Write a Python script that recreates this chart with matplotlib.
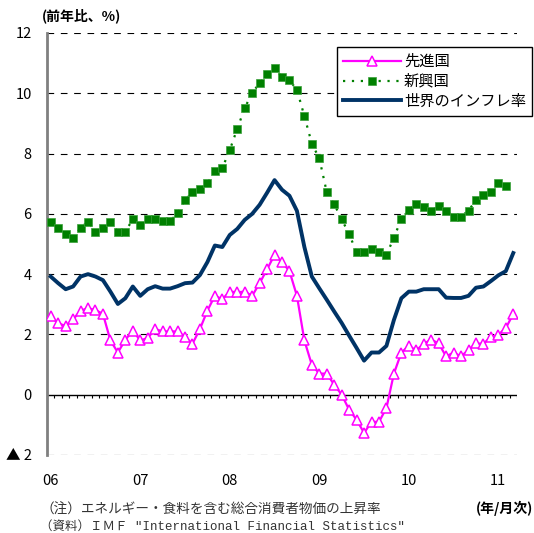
import matplotlib
matplotlib.use("Agg")
import matplotlib.pyplot as plt
import numpy as np

plt.rcParams['font.family'] = ['Noto Sans CJK JP', 'DejaVu Sans']

# monthly data, Jan 2006 - Mar 2011 (%, yoy)
advanced = [2.60, 2.37, 2.28, 2.50, 2.79, 2.87, 2.81, 2.68, 1.80, 1.40, 1.82, 2.13,
            1.80, 1.88, 2.18, 2.10, 2.10, 2.10, 1.91, 1.69, 2.18, 2.79, 3.28, 3.17,
            3.42, 3.40, 3.42, 3.28, 3.70, 4.16, 4.64, 4.40, 4.10, 3.28, 1.80, 0.99,
            0.70, 0.70, 0.33, 0.00, -0.50, -0.83, -1.27, -0.90, -0.90, -0.44, 0.70, 1.40,
            1.62, 1.47, 1.69, 1.83, 1.70, 1.27, 1.40, 1.27, 1.49, 1.70, 1.69, 1.92,
            1.99, 2.21, 2.68]
emerging = [5.74, 5.54, 5.34, 5.21, 5.54, 5.74, 5.41, 5.54, 5.74, 5.41, 5.41, 5.82,
            5.62, 5.83, 5.83, 5.75, 5.75, 6.03, 6.45, 6.72, 6.82, 7.01, 7.43, 7.52,
            8.12, 8.82, 9.51, 10.01, 10.34, 10.63, 10.85, 10.53, 10.43, 10.12, 9.24, 8.33,
            7.84, 6.72, 6.32, 5.82, 5.33, 4.72, 4.72, 4.83, 4.72, 4.64, 5.21, 5.83,
            6.12, 6.34, 6.24, 6.11, 6.25, 6.11, 5.91, 5.91, 6.11, 6.45, 6.61, 6.73,
            7.02, 6.93]
world = [3.92, 3.70, 3.50, 3.59, 3.92, 4.00, 3.92, 3.80, 3.42, 3.01, 3.20, 3.59,
         3.28, 3.50, 3.60, 3.52, 3.52, 3.60, 3.70, 3.72, 3.97, 4.40, 4.95, 4.90,
         5.30, 5.50, 5.80, 6.00, 6.30, 6.70, 7.12, 6.80, 6.60, 6.10, 4.90, 3.92,
         3.53, 3.15, 2.76, 2.38, 1.96, 1.55, 1.13, 1.40, 1.40, 1.62, 2.48, 3.20,
         3.42, 3.42, 3.50, 3.50, 3.50, 3.22, 3.21, 3.21, 3.28, 3.55, 3.59, 3.77,
         3.96, 4.10, 4.70]

year_labels = ['06', '07', '08', '09', '10', '11']
y_ticks = [-2, 0, 2, 4, 6, 8, 10, 12]
y_labels = ['▲ 2', '0', '2', '4', '6', '8', '10', '12']

fig = plt.figure(figsize=(5.34, 5.33), dpi=100)
ax = fig.add_axes([47/534, 1-455/533, 470/534, 422/533])

m = np.arange(len(world))

for v in [-2, 2, 4, 6, 8, 10, 12]:
    ax.axhline(v, color='black', lw=0.8, ls=(0, (6, 6)), zorder=1)
ax.axhline(0, color='black', lw=1.0, zorder=2)
ax.vlines(np.arange(-0.5, len(world)), -0.1, 0, colors='black', lw=0.8, zorder=2)

ax.plot(m, advanced, color='#ff00ff', lw=1.6, marker='^', ms=6.5,
        mfc='white', mec='#ff00ff', mew=1.1, label='先進国', zorder=4)
ax.plot(np.arange(len(emerging)), emerging, color='#008000', lw=1.6, ls=(0, (1, 3)),
        marker='s', ms=5.5, mfc='#008000', mec='#3aa03a', mew=0.5, label='新興国', zorder=4)
ax.plot(m, world, color='#003366', lw=2.8, label='世界のインフレ率', zorder=3)

ax.set_xlim(-0.5, len(world) - 0.5)
ax.set_ylim(-2, 12)
ax.set_yticks(y_ticks)
ax.set_yticklabels(y_labels, fontsize=10.5)
ax.set_xticks(np.arange(0, 61, 12))
ax.set_xticklabels(year_labels, fontsize=10.5)
ax.tick_params(axis='y', length=0, pad=11)
ax.tick_params(axis='x', length=0, pad=14)

for s in ['top', 'right', 'bottom']:
    ax.spines[s].set_visible(False)
ax.spines['left'].set_color('#808080')
ax.spines['left'].set_linewidth(2)

leg = ax.legend(loc='upper right', bbox_to_anchor=(532/534, 1-47/533),
                bbox_transform=fig.transFigure, fontsize=11, frameon=True,
                fancybox=False, handlelength=3.8, handletextpad=0.2,
                labelspacing=0.18, borderpad=0.4, borderaxespad=0)
leg.get_frame().set_edgecolor('black')
leg.get_frame().set_linewidth(1.0)
leg.get_frame().set_alpha(1)

fig.text(42/534, 1-16/533, '(前年比、%)', fontsize=10, va='center', ha='left',
         fontweight='bold')
fig.text(533/534, 1-508/533, '(年/月次)', fontsize=10, va='center', ha='right',
         fontweight='bold')
fig.text(40/534, 1-510/533, '（注）エネルギー・食料を含む総合消費者物価の上昇率',
         fontsize=9.8, va='center', ha='left', color='#333333')
fig.text(40/534, 1-527/533, '（資料）ＩＭＦ ″International Financial Statistics″',
         fontsize=9.0, va='center', ha='left', color='#333333',
         family=['Liberation Mono', 'Noto Sans CJK JP'])

fig.savefig('out.png', dpi=100)
